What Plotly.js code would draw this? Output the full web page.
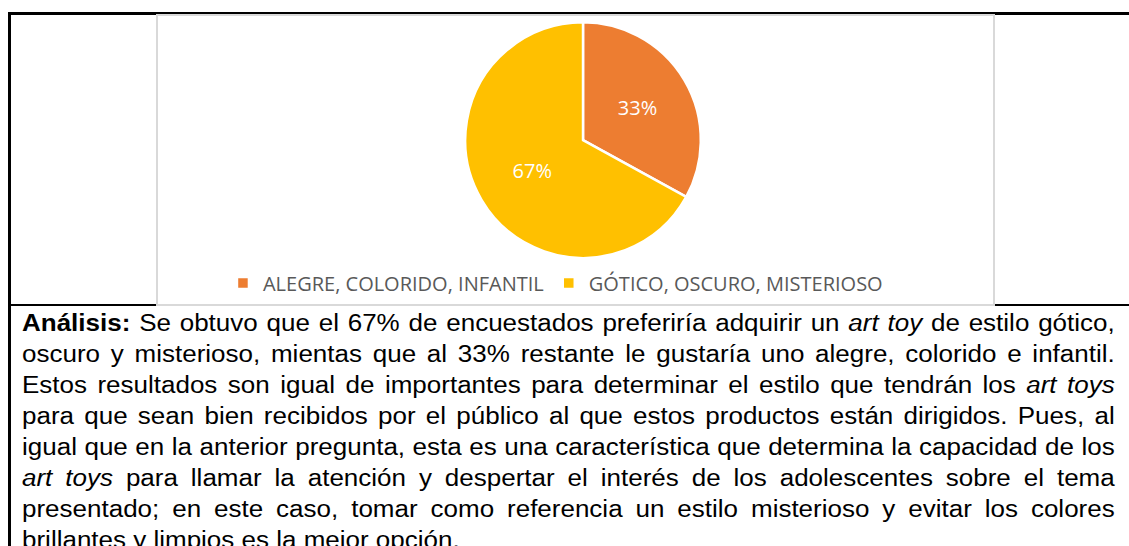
<!DOCTYPE html>
<html>
<head>
<meta charset="utf-8">
<script src="https://cdn.plot.ly/plotly-3.0.1.min.js"></script>
<style>
  html, body { margin:0; padding:0; background:#fff; width:1129px; height:546px; overflow:hidden; }
  #tableTop { position:absolute; left:8px; top:12px; width:1121px; height:3px; background:#000; }
  #tableLeft { position:absolute; left:8px; top:12px; width:3px; height:534px; background:#000; }
  #tableMid { position:absolute; left:8px; top:304px; width:1121px; height:2px; background:#000; }
  #chartBox { position:absolute; left:156px; top:14px; width:835px; height:288px; border:2px solid #d9d9d9; background:#fff; }
  #chart { position:absolute; left:0; top:0; width:835px; height:288px; }
  #analysis { position:absolute; left:22px; top:308px; width:967px; transform:scaleX(1.13); transform-origin:0 0; font-family:"Liberation Sans", Arial, sans-serif; font-size:23px; line-height:31px; color:#000; }
  #analysis .l { text-align:justify; text-align-last:justify; white-space:nowrap; height:31px; }
  #analysis .l.last { text-align-last:left; }
</style>
</head>
<body>
<div id="tableTop"></div>
<div id="tableLeft"></div>
<div id="tableMid"></div>
<div id="chartBox"><div id="chart"></div></div>
<div id="analysis">
  <div class="l"><b>Análisis:</b> Se obtuvo que el 67% de encuestados preferiría adquirir un <i>art toy</i> de estilo gótico,</div>
  <div class="l">oscuro y misterioso, mientas que al 33% restante le gustaría uno alegre, colorido e infantil.</div>
  <div class="l">Estos resultados son igual de importantes para determinar el estilo que tendrán los <i>art toys</i></div>
  <div class="l">para que sean bien recibidos por el público al que estos productos están dirigidos. Pues, al</div>
  <div class="l">igual que en la anterior pregunta, esta es una característica que determina la capacidad de los</div>
  <div class="l"><i>art toys</i> para llamar la atención y despertar el interés de los adolescentes sobre el tema</div>
  <div class="l">presentado; en este caso, tomar como referencia un estilo misterioso y evitar los colores</div>
  <div class="l last">brillantes y limpios es la mejor opción.</div>
</div>
<script>
const categories = ["ALEGRE, COLORIDO, INFANTIL", "GÓTICO, OSCURO, MISTERIOSO"];
const percentages = [33, 67];
const sliceColors = ["#ED7D31", "#FFC000"];

const trace = {
  type: "pie",
  labels: categories,
  values: percentages,
  sort: false,
  direction: "clockwise",
  rotation: 0,
  marker: { colors: sliceColors, line: { color: "#ffffff", width: 2.5 } },
  texttemplate: "%{value}%",
  textposition: "inside",
  insidetextorientation: "horizontal",
  textfont: { family: "Open Sans, sans-serif", size: 20, color: "#ffffff" },
  hoverinfo: "label+percent",
  domain: { x: [0.367, 0.651], y: [0.16, 0.978] }
};

const layout = {
  width: 835, height: 288,
  margin: { l: 0, r: 0, t: 0, b: 0 },
  paper_bgcolor: "#ffffff",
  showlegend: true,
  legend: {
    orientation: "h",
    x: 0.476, xanchor: "center",
    y: 0.073, yanchor: "middle",
    font: { family: "Open Sans, sans-serif", size: 20, color: "#595959" },
    itemwidth: 30,
    traceorder: "normal"
  }
};

Plotly.newPlot("chart", [trace], layout, { displayModeBar: false, staticPlot: true });
</script>
</body>
</html>
